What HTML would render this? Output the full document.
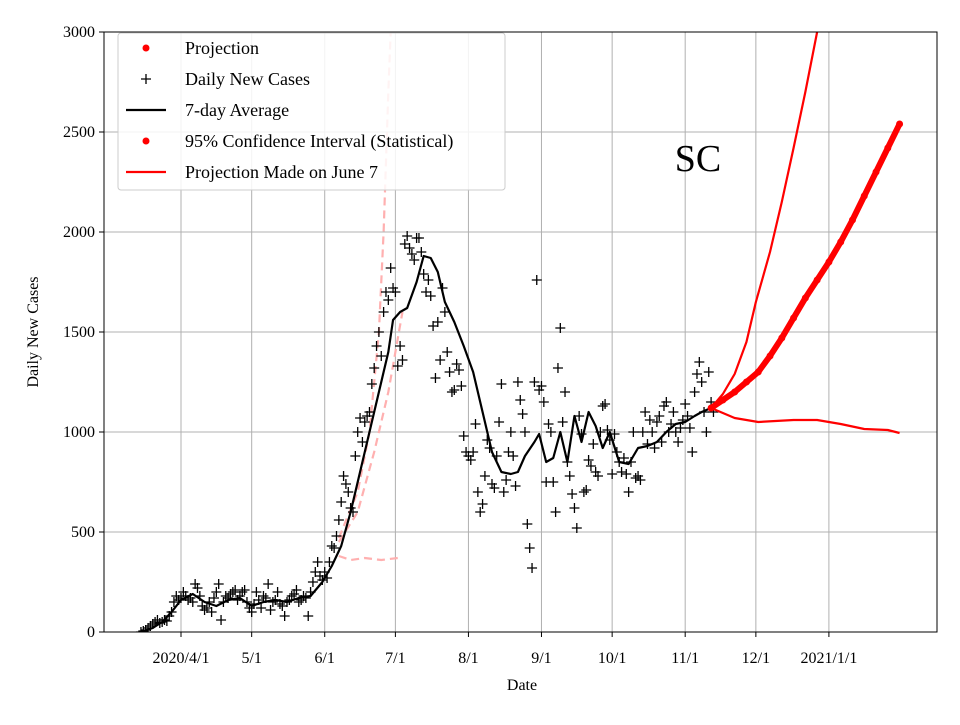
<!DOCTYPE html>
<html><head><meta charset="utf-8"><style>body{margin:0;background:#fff}svg text{font-family:"Liberation Serif",serif}</style></head>
<body>
<svg id="chart" width="960" height="720" xmlns="http://www.w3.org/2000/svg"></svg>
<script>
const xTickLabels=["2020/4/1","5/1","6/1","7/1","8/1","9/1","10/1","11/1","12/1","2021/1/1"];
const xTickDays=[0,30,61,91,122,153,183,214,244,275];
const yTicks=[0,500,1000,1500,2000,2500,3000];
const dailyStart=-17;
const dailyCases=[0,5,10,20,30,40,50,60,45,50,60,55,80,100,150,180,160,170,
200,180,160,170,150,240,220,180,130,110,120,150,100,170,200,240,60,150,180,170,190,200,210,160,180,200,210,150,120,100,
140,200,160,120,180,170,240,110,150,160,200,140,130,80,150,160,180,190,210,150,160,180,170,80,200,250,300,350,280,260,300,
270,350,430,420,480,560,650,780,740,700,620,600,880,1000,1070,950,1050,1080,1100,1240,1320,1430,1500,1380,1600,1700,1660,1820,1720,1700,
1330,1430,1360,1940,1980,1920,1890,1860,1970,1970,1900,1790,1700,1760,1680,1530,1270,1550,1360,1720,1600,1400,1300,1200,1210,1340,1310,1230,980,900,880,
860,900,1040,700,600,640,780,960,920,740,720,880,1050,1240,700,760,900,1000,880,730,1250,1160,1090,1000,540,420,320,1250,1760,1210,1230,
1150,750,1040,1000,750,600,1320,1520,1050,1200,850,780,690,620,520,1080,990,700,710,860,830,940,800,780,1000,1130,1140,1010,960,790,
990,900,850,800,870,790,700,850,1000,770,780,760,1000,1100,940,1060,1000,920,1050,1080,950,1130,1150,1000,1040,1100,1000,950,1020,1060,1140,
1080,1020,900,1200,1290,1350,1250,1100,1000,1300,1150,1100];
const avgDays=[-17,-12,-8,-4,0,5,10,15,20,25,30,35,40,45,50,55,60,64,68,72,76,80,84,88,90,93,96,100,103,106,109,112,116,120,124,128,132,136,140,143,146,150,152,155,158,161,164,167,170,173,176,179,182,186,190,194,198,202,206,210,214,218,221,225];
const avgVals=[0,20,50,100,160,190,150,130,160,170,130,150,160,150,170,180,250,330,430,600,800,1000,1200,1400,1560,1600,1620,1750,1880,1870,1800,1650,1550,1430,1300,1100,900,800,790,800,880,950,990,850,870,1000,850,1080,950,1100,1030,920,1000,850,840,920,930,950,1000,1040,1050,1080,1100,1120];
const projDays=[225,230,235,240,245,250,255,260,265,270,275,280,285,290,295,300,305];
const projVals=[1120,1160,1200,1250,1300,1380,1470,1570,1670,1760,1850,1950,2060,2180,2300,2420,2540];
const ciUpDays=[225,230,235,240,244,250,255,260,265,270];
const ciUpVals=[1120,1190,1290,1450,1650,1900,2150,2420,2700,3000];
const ciLoDays=[225,235,245,260,270,280,290,300,305];
const ciLoVals=[1120,1070,1050,1060,1060,1040,1015,1010,995];
const junUpDays=[67,75,80,84,86,88,89];
const junUpVals=[470,700,1000,1500,2000,2700,3000];
const junMidDays=[67,75,82,88,94];
const junMidVals=[450,600,900,1200,1600];
const junLoDays=[67,72,78,85,92];
const junLoVals=[380,360,370,360,370];

const L=104,R=937,T=32,B=632;
const X=d=>181+d*2.356, Y=v=>B-v*(B-T)/3000;
const svg=document.getElementById('chart');const NS='http://www.w3.org/2000/svg';
function mk(t,a,p){const e=document.createElementNS(NS,t);for(const k in a)e.setAttribute(k,a[k]);(p||svg).appendChild(e);return e;}
const clip=mk('clipPath',{id:'pc'});mk('rect',{x:L,y:T,width:R-L,height:B-T},clip);
const grid=mk('g',{});
xTickDays.forEach((d,i)=>{mk('line',{x1:X(d),x2:X(d),y1:T,y2:B,stroke:'#b0b0b0','stroke-width':1},grid);
 mk('line',{x1:X(d),x2:X(d),y1:B,y2:B+5,stroke:'#000'});
 const t=mk('text',{x:X(d),y:B+31,'font-size':16,'text-anchor':'middle'});t.textContent=xTickLabels[i];
 });
yTicks.forEach(v=>{mk('line',{x1:L,x2:R,y1:Y(v),y2:Y(v),stroke:'#b0b0b0','stroke-width':1},grid);
 mk('line',{x1:L-5,x2:L,y1:Y(v),y2:Y(v),stroke:'#000'});
 const t=mk('text',{x:L-9,y:Y(v)+5,'font-size':16,'text-anchor':'end'});t.textContent=v;
 });
const g=mk('g',{'clip-path':'url(#pc)'});
function line(ds,vs,st,name){const p=mk('polyline',Object.assign({points:ds.map((d,i)=>X(d)+','+Y(vs[i])).join(' '),fill:'none','stroke-linejoin':'round'},st),g);
 return p;}
line(junUpDays,junUpVals,{stroke:'#ffb0b0','stroke-width':2.2,'stroke-dasharray':'8,5'},'june7-upper');
line(junMidDays,junMidVals,{stroke:'#ffb0b0','stroke-width':2.2,'stroke-dasharray':'8,5'},'june7-projection');
line(junLoDays,junLoVals,{stroke:'#ffb0b0','stroke-width':2.2,'stroke-dasharray':'8,5'},'june7-lower');
dailyCases.forEach((v,i)=>{const x=X(dailyStart+i),y=Y(v);
 const p=mk('path',{d:`M${x-5},${y}H${x+5}M${x},${y-5}V${y+5}`,stroke:'#000','stroke-width':1.3},g);
 });
line(avgDays,avgVals,{stroke:'#000','stroke-width':2.2},'seven-day-average');
line(ciUpDays,ciUpVals,{stroke:'#f00','stroke-width':2.2},'ci-upper');
line(ciLoDays,ciLoVals,{stroke:'#f00','stroke-width':2.2},'ci-lower');
line(projDays,projVals,{stroke:'#f00','stroke-width':6},'projection');
projDays.forEach((d,i)=>{const c=mk('circle',{cx:X(d),cy:Y(projVals[i]),r:3.5,fill:'#f00'},g);
 });
mk('rect',{x:L,y:T,width:R-L,height:B-T,fill:'none',stroke:'#000','stroke-width':1});
const yl=mk('text',{x:38,y:332,'font-size':16,'text-anchor':'middle',transform:'rotate(-90 38 332)'});yl.textContent='Daily New Cases';

const xl=mk('text',{x:522,y:690,'font-size':16,'text-anchor':'middle'});xl.textContent='Date';

const st=mk('text',{x:698,y:171,'font-size':38,'text-anchor':'middle'});st.textContent='SC';

const lg=mk('g',{});
mk('rect',{x:118,y:33,width:387,height:157,rx:3,fill:'#fff','fill-opacity':0.85,stroke:'#ccc'},lg);
const entries=['Projection','Daily New Cases','7-day Average','95% Confidence Interval (Statistical)','Projection Made on June 7'];
entries.forEach((s,i)=>{const y=48+i*31;
 if(i==0||i==3)mk('circle',{cx:146,cy:y,r:3.5,fill:'#f00'},lg);
 else if(i==1)mk('path',{d:`M141,${y}H151M146,${y-5}V${y+5}`,stroke:'#000','stroke-width':1.3},lg);
 else mk('line',{x1:126,x2:166,y1:y,y2:y,stroke:i==2?'#000':'#f00','stroke-width':2.2},lg);
 const t=mk('text',{x:185,y:y+6,'font-size':18},lg);t.textContent=s;
 });
</script>
</body></html>
